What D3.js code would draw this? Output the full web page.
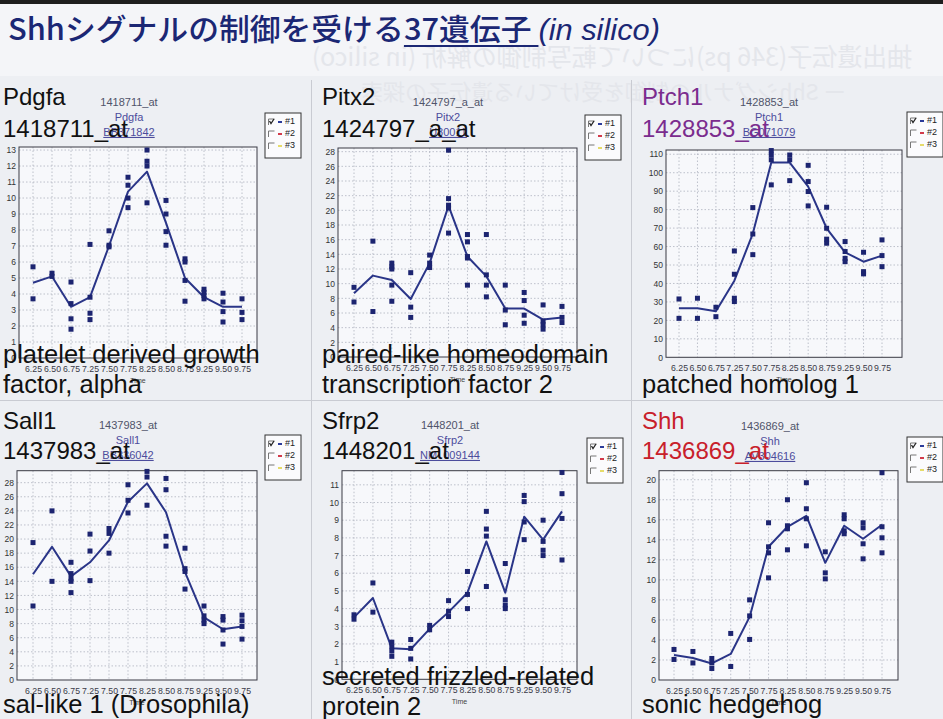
<!DOCTYPE html>
<html><head><meta charset="utf-8">
<script src="https://cdn.jsdelivr.net/npm/d3@7"></script>
<style>html,body{margin:0;padding:0;background:#eceef3;} svg{display:block;}</style>
</head><body><svg id="c" width="943" height="719"></svg>
<script>
// ---------------- DATA ----------------
const times = ["6.25","6.50","6.75","7.25","7.50","7.75","8.25","8.50","8.75","9.25","9.50","9.75"];
const titleText = ["Shhシグナルの制御を受ける", "37遺伝子", " ", "(in silico)"];
const legendLabels = ["#1", "#2", "#3"];

const pdgfaReps = [[5.7,3.7],[5.3,5.1],[4.75,3.4,2.45,1.8],[7.1,3.8,2.8,2.4],[7.95,7.05,6.95],[11.3,10.8,10.0,9.4],[13.0,12.3,12.0,9.7],[9.85,9.0,7.9,7.05],[6.2,6.0,4.85,3.55],[4.3,4.1,3.9,3.7],[4.05,3.5,2.9,2.25],[3.7,2.85,2.4]];
const pdgfaMean = [4.7,5.1,3.2,3.8,7.0,10.4,11.65,8.45,5.0,3.8,3.2,3.2];
const pdgfaTicks = [0,1,2,3,4,5,6,7,8,9,10,11,12,13];

const pitx2Reps = [[9.5,7.5],[15.8,6.2],[12.8,12.3,12.0,9.8,7.6],[11.5,6.8,5.4],[13.9,12.8,12.2],[28.2,21.6,20.7,20.3,16.9],[16.7,15.7,13.7,13.5,9.8],[16.7,11.2,9.8,8.2],[9.8,6.4,4.4],[8.8,7.7,5.7,4.6],[7.1,4.9,4.4,3.8],[6.9,5.4,4.7]];
const pitx2Mean = [8.7,11.1,10.5,7.9,12.8,20.6,13.7,11.0,6.6,6.6,5.1,5.4];
const pitx2Ticks = [0,2,4,6,8,10,12,14,16,18,20,22,24,26,28];

const ptch1Reps = [[31.6,21.1],[32,21.1],[27.1,22],[57.6,45,32,30.2],[81.1,66.8,55.6],[112,109.6,107,93.4],[109.6,107,95.7],[104,95.2,89.8,82],[81.3,69.9,64,61.8],[62.7,57.3,53.6,51.8],[56.9,46.4,45.2],[63.6,55.1,49.1]];
const ptch1Mean = [26.6,26.6,25,41.5,67,105.5,105.5,92.5,69.9,56.9,51.8,55.1];
const ptch1Ticks = [0,10,20,30,40,50,60,70,80,90,100,110];

const sall1Reps = [[19.5,10.5],[24.0,14.0],[16.7,15.1,14.4,14.0,12.4],[20.7,18.3,14.1],[21.5,20.8,18.0],[27.7,25.5,23.7],[29.6,28.8,24.8],[28.6,27.0,20.4,19.0],[18.7,15.8,15.4,12.9],[10.5,9.1,8.5,8.0],[9.0,8.5,7.1,5.1],[9.2,8.4,7.6,5.8]];
const sall1Mean = [15.0,18.9,14.7,16.7,19.8,25.3,27.9,23.8,15.3,8.9,7.2,7.6];
const sall1Ticks = [0,2,4,6,8,10,12,14,16,18,20,22,24,26,28];

const sfrp2Reps = [[3.65,3.4],[5.45,3.8],[2.1,1.85,1.6,1.3],[2.25,1.75,1.15],[3.05,2.8],[4.45,3.85,3.55],[6.1,4.8,4.0],[9.5,8.5,8.1,5.25],[6.55,4.5,4.2,4.0],[10.4,10.05,8.9,7.9],[9.0,7.8,7.3,7.0],[11.7,10.5,9.1,6.75]];
const sfrp2Mean = [3.5,4.6,1.75,1.7,2.85,3.8,4.9,7.8,4.9,9.2,7.9,9.5];
const sfrp2Ticks = [0,1,2,3,4,5,6,7,8,9,10,11];

const shhReps = [[3.05,2.05],[2.85,1.7],[2.15,1.7,1.15],[4.65,1.35],[8.0,6.4,4.05],[15.7,13.3,12.7,10.2],[18.0,15.4,15.1,13.0],[19.7,17.1,16.1,13.4],[12.8,10.7,10.1],[16.5,16.1,14.9,14.6],[15.7,15.2,13.6,12.1],[20.7,15.3,14.2,12.7]];
const shhMean = [2.5,2.2,1.65,2.6,6.3,13.3,15.3,16.4,11.7,15.4,14.1,15.5];
const shhTicks = [0,2,4,6,8,10,12,14,16,18,20];

const symbols = ["Pdgfa","Pitx2","Ptch1","Sall1","Sfrp2","Shh"];
const probes = ["1418711_at","1424797_a_at","1428853_at","1437983_at","1448201_at","1436869_at"];
const accessions = ["BB371842","U80011","BG071079","BB336042","NM_009144","AV304616"];
const descriptions = [["platelet derived growth","factor, alpha"],["paired-like homeodomain","transcription factor 2"],["","patched homolog 1"],["","sal-like 1 (Drosophila)"],["secreted frizzled-related","protein 2"],["","sonic hedgehog"]];
const repsAll = [pdgfaReps,pitx2Reps,ptch1Reps,sall1Reps,sfrp2Reps,shhReps];
const meansAll = [pdgfaMean,pitx2Mean,ptch1Mean,sall1Mean,sfrp2Mean,shhMean];
const ticksAll = [pdgfaTicks,pitx2Ticks,ptch1Ticks,sall1Ticks,sfrp2Ticks,shhTicks];

// ---------------- LAYOUT ----------------
const layout = [
  {tx:3,   ty:[105,137], dy:[363,393], fx0:19,  fx1:257, fy0:147, fy1:358, px0:33,  px1:242, top:13.19, sc:129, sy:[103,118,133], lx:265, ly:113, hl:"#111"},
  {tx:322, ty:[105,137], dy:[363,393], fx0:338, fx1:577, fy0:148, fy1:357, px0:354, px1:562, top:28.5,  sc:448, sy:[103,118,133], lx:585, ly:115, hl:"#111"},
  {tx:642, ty:[105,137], dy:[363,393], fx0:666, fx1:902, fy0:150, fy1:357.3, px0:679, px1:882, top:112.3, sc:769, sy:[103,118,133], lx:907, ly:112, hl:"#7b2c8e"},
  {tx:3,   ty:[429,459], dy:[683,713], fx0:17,  fx1:257, fy0:470.7, fy1:680, px0:33,  px1:242, top:29.7, sc:128, sy:[426,441,456], lx:265, ly:435, hl:"#111"},
  {tx:322, ty:[429,459], dy:[685,715], fx0:342, fx1:577, fy0:470.7, fy1:679.3, px0:354, px1:562, top:11.8, sc:450, sy:[426,441,456], lx:587, ly:438, hl:"#111"},
  {tx:642, ty:[429,459], dy:[683,713], fx0:659, fx1:898, fy0:470.7, fy1:680, px0:674, px1:882, top:20.9, sc:770, sy:[427,442,457], lx:907, ly:437, hl:"#c8202a"}
];

const svg = d3.select("#c");
const SANS = "'Liberation Sans', Arial, sans-serif";

// background
svg.append("rect").attr("width",943).attr("height",719).attr("fill","#edeff3");
svg.append("rect").attr("x",0).attr("y",4).attr("width",943).attr("height",72).attr("fill","#f4f5f8");
svg.append("rect").attr("x",0).attr("y",0).attr("width",943).attr("height",4).attr("fill","#1e1e1e");

// ghost (bleed-through, mirrored) text
const ghost = [
  {t:"抽出遺伝子(346 ps)について転写制御の解析 (in silico)", cx:612, y:66, fs:25},
  {t:"ー Shhシグナルの制御を受けている遺伝子の探索 ー", cx:590, y:100, fs:22}
];
ghost.forEach(g => {
  svg.append("text").attr("transform",`translate(${g.cx},${g.y}) scale(-1,1)`)
    .attr("text-anchor","middle").attr("font-family","'Noto Sans CJK JP'")
    .attr("font-size",g.fs).attr("fill","#e4e6eb").text(g.t);
});

// separators
svg.append("line").attr("x1",0).attr("x2",943).attr("y1",400.5).attr("y2",400.5).attr("stroke","#c9cbd2").attr("stroke-width",1);
[311.5, 631.5].forEach(x => svg.append("line").attr("x1",x).attr("x2",x).attr("y1",80).attr("y2",719).attr("stroke","#c9cbd2").attr("stroke-width",1));

// title
const tg = svg.append("g");
let cx = 0;
const TCOL = "#1b2774";
const tparts = [
  {t:titleText[0], ff:"'Noto Sans CJK JP'", it:false, u:false},
  {t:titleText[1], ff:"'Noto Sans CJK JP'", it:false, u:true},
  {t:titleText[2], ff:"'Noto Sans CJK JP'", it:false, u:true},
  {t:titleText[3], ff:SANS, it:true, u:false}
];
let uStart = null, uEnd = null;
tparts.forEach(p => {
  const t = tg.append("text").attr("x",cx).attr("y",0).attr("font-family",p.ff)
    .attr("font-size",30).attr("font-weight", p.it ? 400 : 500).attr("fill",TCOL).attr("font-style",p.it?"italic":"normal")
    .attr("xml:space","preserve").style("white-space","pre").text(p.t);
  let w = t.node().getComputedTextLength();
  if (p.t === " " && w < 2) w = 8;
  if (p.u) { if (uStart === null) uStart = cx; uEnd = cx + w; }
  cx += w;
});
tg.append("line").attr("x1",uStart).attr("x2",uEnd).attr("y1",6).attr("y2",6).attr("stroke",TCOL).attr("stroke-width",1.8);
const tsx = 652 / cx;
tg.attr("transform",`translate(8,40) scale(${tsx},1)`);

// panels
symbols.forEach((sym, i) => {
  const L = layout[i];
  const g = svg.append("g");
  const x = d3.scalePoint().domain(times).range([L.px0, L.px1]);
  const y = d3.scaleLinear().domain([0, L.top]).range([L.fy1, L.fy0]);

  g.append("rect").attr("x",L.fx0).attr("y",L.fy0).attr("width",L.fx1-L.fx0).attr("height",L.fy1-L.fy0)
    .attr("fill","#f7f8fb");
  g.selectAll(".hg").data(ticksAll[i].filter(v => v > 0)).join("line")
    .attr("x1",L.fx0).attr("x2",L.fx1).attr("y1",d=>y(d)).attr("y2",d=>y(d))
    .attr("stroke","#aeb2bf").attr("stroke-width",0.8).attr("stroke-dasharray","1.5,2");
  g.selectAll(".vg").data(times).join("line")
    .attr("x1",d=>x(d)).attr("x2",d=>x(d)).attr("y1",L.fy0).attr("y2",L.fy1)
    .attr("stroke","#aeb2bf").attr("stroke-width",0.8).attr("stroke-dasharray","1.5,2");
  g.append("rect").attr("x",L.fx0).attr("y",L.fy0).attr("width",L.fx1-L.fx0).attr("height",L.fy1-L.fy0)
    .attr("fill","none").attr("stroke","#3a3a44").attr("stroke-width",1);

  const ya = g.append("g").attr("transform",`translate(${L.fx0},0)`)
    .call(d3.axisLeft(y).tickValues(ticksAll[i]).tickSize(0).tickPadding(3).tickFormat(d3.format("d")));
  ya.select(".domain").remove();
  ya.selectAll("text").attr("font-family",SANS).attr("font-size",8.5).attr("fill","#333");

  const xa = g.append("g").attr("transform",`translate(0,${L.fy1})`)
    .call(d3.axisBottom(x).tickSize(0).tickPadding(8));
  xa.select(".domain").remove();
  xa.selectAll("text").attr("font-family",SANS).attr("font-size",8.5).attr("fill","#3a3a48")
    .attr("textLength",17).attr("lengthAdjust","spacingAndGlyphs");
  g.append("text").attr("x",(L.fx0+L.fx1)/2).attr("y",L.fy1+25).attr("text-anchor","middle")
    .attr("font-family",SANS).attr("font-size",7).attr("fill","#444").text("Time");

  const line = d3.line().x((d,k)=>x(times[k])).y(d=>y(d));
  g.append("path").datum(meansAll[i]).attr("d",line).attr("fill","none")
    .attr("stroke","#2a3588").attr("stroke-width",2).attr("stroke-linejoin","round");

  const pts = [];
  repsAll[i].forEach((arr,k) => arr.forEach(v => pts.push({t:times[k], v})));
  g.selectAll(".pt").data(pts).join("rect")
    .attr("x",d=>x(d.t)-2.5).attr("y",d=>y(d.v)-2.5).attr("width",5).attr("height",5)
    .attr("fill","#1c2470");

  const small = [probes[i], sym, accessions[i]];
  small.forEach((s,k) => {
    const st = g.append("text").attr("x",L.sc).attr("y",L.sy[k]).attr("text-anchor","middle")
      .attr("dominant-baseline","middle").attr("font-family",SANS).attr("font-size",11)
      .attr("fill", k===0 ? "#50546a" : "#4c4c9c").text(s);
    if (k===2) st.attr("text-decoration","underline");
  });

  const lg = g.append("g").attr("transform",`translate(${L.lx},${L.ly})`);
  lg.append("rect").attr("width",36).attr("height",45).attr("fill","#fbfbfd").attr("stroke","#333").attr("stroke-width",1);
  const lcol = ["#2a3a9a","#d23a4a","#e6dc6a"];
  legendLabels.forEach((lab,k) => {
    const yy = 9 + k*12;
    lg.append("path").attr("d",`M3.5,${yy+3} V${yy-3} H9.5`).attr("fill","none").attr("stroke","#777").attr("stroke-width",1);
    if (k===0) lg.append("path").attr("d",`M4.5,${yy-1} L6,${yy+1.5} L9,${yy-3}`).attr("fill","none").attr("stroke","#222").attr("stroke-width",1.3);
    lg.append("line").attr("x1",13).attr("x2",17).attr("y1",yy).attr("y2",yy).attr("stroke",lcol[k]).attr("stroke-width",2);
    lg.append("text").attr("x",20).attr("y",yy).attr("dominant-baseline","middle")
      .attr("font-family",SANS).attr("font-size",9).attr("fill","#222").text(lab);
  });

  g.append("text").attr("x",L.tx).attr("y",L.ty[0]).attr("font-family",SANS).attr("font-size",24)
    .attr("fill",L.hl).text(sym);
  g.append("text").attr("x",L.tx).attr("y",L.ty[1]).attr("font-family",SANS).attr("font-size",24)
    .attr("fill",L.hl).text(probes[i]);
  descriptions[i].forEach((d,k) => {
    if (!d) return;
    g.append("text").attr("x",L.tx).attr("y",L.dy[k]).attr("font-family",SANS).attr("font-size",25.5)
      .attr("fill","#111").text(d);
  });
});
</script></body></html>
